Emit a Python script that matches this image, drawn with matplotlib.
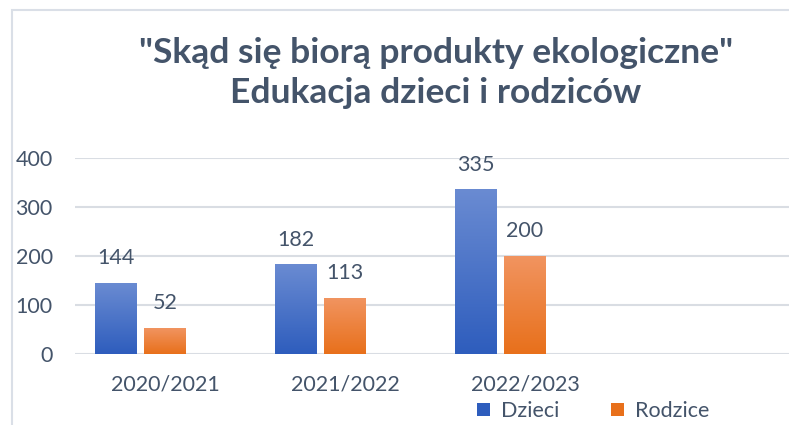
import numpy as np
import matplotlib
matplotlib.use("Agg")
import matplotlib.pyplot as plt
from matplotlib.colors import LinearSegmentedColormap
from matplotlib.patches import Rectangle, Patch

# data
categories = ["2020/2021", "2021/2022", "2022/2023", ""]
dzieci = [144, 182, 335]
rodzice = [52, 113, 200]
series_names = ["Dzieci", "Rodzice"]

txt = "#44546A"
blue_top, blue_bot = "#6A8BD2", "#2E5DBD"
orange_top, orange_bot = "#F19460", "#E8701B"

plt.rcParams['font.family'] = ['Lato', 'DejaVu Sans']

fig = plt.figure(figsize=(7.89, 4.25), dpi=100)
W, H = 789, 425
ax = fig.add_axes([75 / W, 1 - 354 / H, (W - 75) / W, 196 / H])

x = np.arange(len(categories))
bw = 0.228


def grad_bars(xs, vals, c_top, c_bot):
    cmap = LinearSegmentedColormap.from_list("g", [c_bot, c_top])
    grad = np.linspace(0, 1, 256).reshape(-1, 1)
    for xi, v in zip(xs, vals):
        ax.imshow(grad, extent=[xi - bw / 2, xi + bw / 2, 0, v], origin="lower",
                  aspect="auto", cmap=cmap, zorder=3)
        ax.annotate(str(v), (xi, v), xytext=(0, 11), textcoords="offset points",
                    ha="center", va="bottom", fontsize=15.5, color=txt)


grad_bars(x[:3] - 0.275, dzieci, blue_top, blue_bot)
grad_bars(x[:3], rodzice, orange_top, orange_bot)

ax.set_xlim(-0.5, -0.5 + (W - 75) / 180)
ax.set_ylim(0, 400)
ax.set_yticks([0, 100, 200, 300, 400])
ax.set_xticks(x)
ax.set_xticklabels(categories)
ax.yaxis.grid(True, color="#D9DDE3", lw=1.5, zorder=0)
ax.set_axisbelow(True)
for s in ax.spines.values():
    s.set_visible(False)
ax.tick_params(axis="both", length=0, labelsize=15.5, labelcolor=txt)
ax.tick_params(axis="y", pad=16)
ax.tick_params(axis="x", pad=15)

fig.text(436 / W, 1 - 73 / H, '"Skąd się biorą produkty ekologiczne"\nEdukacja dzieci i rodziców',
         ha="center", va="center", fontsize=25.5, fontweight="bold", color=txt,
         linespacing=1.3)

handles = [Patch(facecolor=blue_bot, label=series_names[0]),
           Patch(facecolor=orange_bot, label=series_names[1])]
fig.legend(handles=handles, loc="center", bbox_to_anchor=(593 / W, 1 - 411 / H),
           ncol=2, frameon=False, fontsize=15.5, labelcolor=txt,
           handlelength=0.6, handleheight=0.6, handletextpad=0.5, columnspacing=2.4)

fig.patches.append(Rectangle((12 / W, -0.2), 2, 1.2 - 10 / H, transform=fig.transFigure,
                             fill=False, ec="#DADFE7", lw=1.5))

fig.savefig("out.png", dpi=100)
